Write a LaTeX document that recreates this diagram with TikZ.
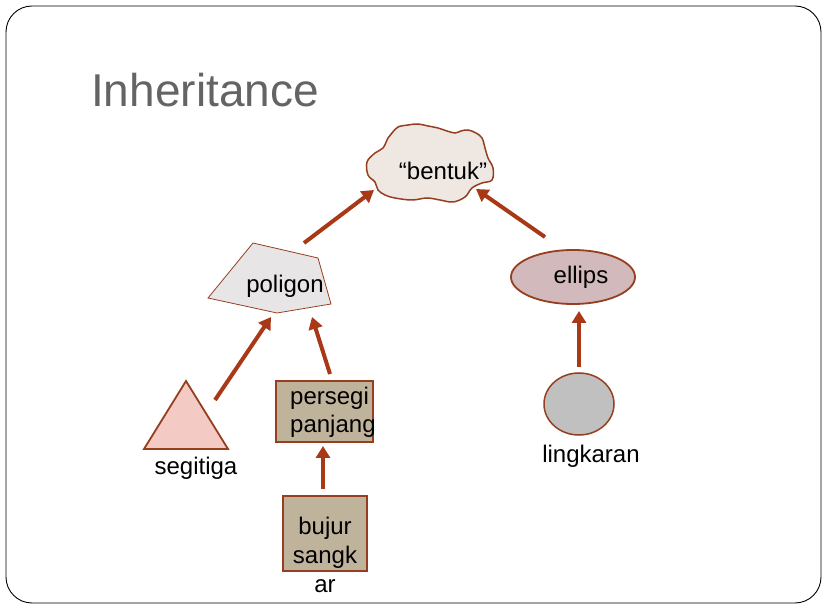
\documentclass[tikz,border=0pt]{standalone}
\usepackage{fontspec}
\setmainfont{Liberation Sans}
\usetikzlibrary{arrows.meta,shapes.geometric}
\definecolor{rust}{RGB}{168,56,22}
\definecolor{edge}{RGB}{150,62,32}
\definecolor{cloudfill}{RGB}{238,231,226}
\definecolor{polyfill}{RGB}{231,229,229}
\definecolor{ellfill}{RGB}{210,185,188}
\definecolor{trifill}{RGB}{243,202,196}
\definecolor{rectfill}{RGB}{192,179,156}
\definecolor{circfill}{RGB}{192,192,192}
\definecolor{titlegray}{RGB}{100,100,100}
\tikzset{
  lbl/.style={font=\fontsize{24}{29}\selectfont, inner sep=0pt},
  inh/.style={draw=rust, line width=4pt, -{Triangle[length=12pt,width=14pt]}},
  boxshape/.style={draw=edge, line width=1.8pt, fill=rectfill}
}
\begin{document}
\begin{tikzpicture}[x=1pt,y=-1pt]
\useasboundingbox (0,0) rectangle (828,612);
% frame
\draw[line width=0.9pt, rounded corners=26pt] (6,6) rectangle (821,603);
% title
\node[anchor=base west, inner sep=0pt, text=titlegray, font=\fontsize{46}{50}\selectfont] (title) at (91,107) {Inheritance};

% cloud
\draw[draw=edge, line width=1.5pt, fill=cloudfill] plot[smooth cycle, tension=0.6] coordinates {
 (392,133) (398,127) (408,125) (418,124) (428,126) (438,128) (447,131) (455,133) (461,131) (468,130)
 (476,133) (482,138) (485,148) (488,158) (493,168) (492,180) (482,183)
 (472,188) (465,197) (453,202) (440,200) (427,198) (412,200) (395,198)
 (385,195) (378,190) (375,182) (368,175) (367,162) (375,153) (383,148) (388,138)};
\node[lbl] (bentuk) at (443,171) {“bentuk”};

% polygon
\draw[draw=edge, line width=0.8pt, fill=polyfill] (208,298) -- (253,243) -- (318,258) -- (331,304) -- (277,313) -- cycle;
\node[lbl] (poligon) at (285,286) {poligon};

% ellipse
\node[ellipse, draw=edge, line width=1.8pt, fill=ellfill, minimum width=124pt, minimum height=54pt, inner sep=0pt] (ellshape) at (573,277) {};
\node[lbl] (ellips) at (581,277) {ellips};

% triangle
\draw[draw=edge, line width=1.8pt, fill=trifill] (186,381) -- (228,449) -- (144,449) -- cycle;
\node[lbl] (segitiga) at (196,468) {segitiga};

% persegi panjang
\draw[boxshape] (276,381) rectangle (373,442);
\node[lbl, anchor=west, align=left] (persegi) at (290,412) {persegi\\[-1pt]panjang};

% bujur sangkar
\draw[boxshape] (283,496) rectangle (367,571);
\node[lbl, align=center] (bujur) at (325,555) {bujur\\sangk\\ar};

% circle
\node[ellipse, draw=edge, line width=1.5pt, fill=circfill, minimum width=70pt, minimum height=62pt, inner sep=0pt] (lingshape) at (579,404) {};
\node[lbl] (lingkaran) at (591,456) {lingkaran};

% arrow end points
\coordinate (p1s) at (304,243); \coordinate (p1e) at (374,190);
\coordinate (p2s) at (545,237); \coordinate (p2e) at (476,189);
\coordinate (p3s) at (215,400); \coordinate (p3e) at (271,317);
\coordinate (p4s) at (330,374); \coordinate (p4e) at (312,317);
\coordinate (p5s) at (323,489); \coordinate (p5e) at (323,446);
\coordinate (p6s) at (579,367); \coordinate (p6e) at (579,311);

\draw[inh] (p1s) -- (p1e);
\draw[inh] (p2s) -- (p2e);
\draw[inh] (p3s) -- (p3e);
\draw[inh] (p4s) -- (p4e);
\draw[inh] (p5s) -- (p5e);
\draw[inh] (p6s) -- (p6e);
\end{tikzpicture}
\end{document}
